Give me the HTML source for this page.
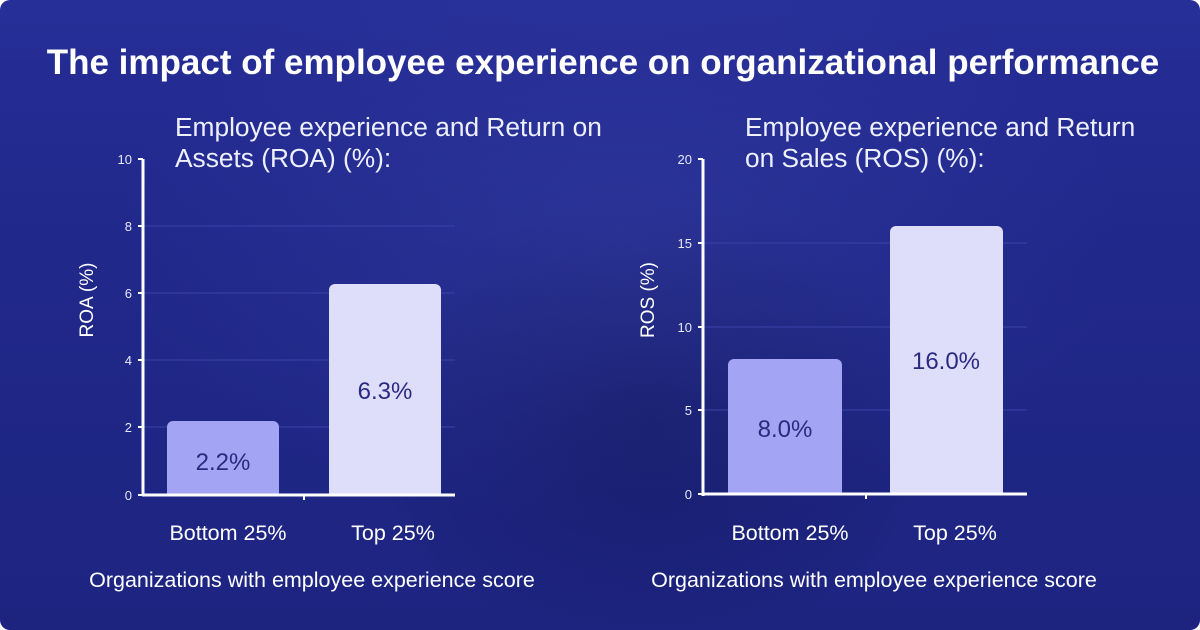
<!DOCTYPE html>
<html><head><style>
body{margin:0;width:1200px;height:630px;overflow:hidden;font-family:"Liberation Sans",sans-serif;}
.bg{position:absolute;left:0;top:0;width:1200px;height:630px;border-radius:10px;overflow:hidden;
background:radial-gradient(ellipse 500px 300px at 620px 230px,rgba(60,70,170,0.35),transparent),
radial-gradient(ellipse 300px 220px at 650px 420px,rgba(15,20,80,0.5),transparent),
linear-gradient(180deg,#262e98 0%,#20288a 40%,#1d2480 100%);}
</style></head><body>
<div class="bg"></div>
<svg width="1200" height="630" style="position:absolute;left:0;top:0" font-family="Liberation Sans, sans-serif">
<text x="603" y="74" fill="#fff" font-size="35" font-weight="bold" text-anchor="middle">The impact of employee experience on organizational performance</text>
<g fill="#eef0ff" font-size="26.3">
<text x="175" y="136">Employee experience and Return on</text>
<text x="175" y="167">Assets (ROA) (%):</text>
<text x="745" y="136">Employee experience and Return</text>
<text x="745" y="167">on Sales (ROS) (%):</text>
</g>
<g stroke="#3a42a8" stroke-width="1">
<line x1="143" x2="455" y1="226" y2="226"/><line x1="143" x2="455" y1="293" y2="293"/><line x1="143" x2="455" y1="360" y2="360"/><line x1="143" x2="455" y1="427" y2="427"/>
<line x1="703" x2="1027" y1="243" y2="243"/><line x1="703" x2="1027" y1="327" y2="327"/><line x1="703" x2="1027" y1="410" y2="410"/>
</g>
<path d="M167 495V427a6 6 0 0 1 6-6H273a6 6 0 0 1 6 6V495Z" fill="#a4a4f5"/>
<path d="M329 495V290a6 6 0 0 1 6-6H435a6 6 0 0 1 6 6V495Z" fill="#dedefa"/>
<path d="M728 495V365a6 6 0 0 1 6-6H836a6 6 0 0 1 6 6V495Z" fill="#a4a4f5"/>
<path d="M890 495V232a6 6 0 0 1 6-6H997a6 6 0 0 1 6 6V495Z" fill="#dedefa"/>
<g stroke="#fff" stroke-width="3">
<line x1="143" y1="159" x2="143" y2="496"/><line x1="142" y1="495" x2="455" y2="495"/>
<line x1="703" y1="159" x2="703" y2="496"/><line x1="702" y1="494" x2="1027" y2="494"/>
</g>
<g stroke="#fff" stroke-width="2">
<line x1="138" x2="143" y1="159" y2="159"/><line x1="138" x2="143" y1="226" y2="226"/><line x1="138" x2="143" y1="293" y2="293"/><line x1="138" x2="143" y1="360" y2="360"/><line x1="138" x2="143" y1="427" y2="427"/><line x1="138" x2="143" y1="495" y2="495"/>
<line x1="698" x2="703" y1="159" y2="159"/><line x1="698" x2="703" y1="243" y2="243"/><line x1="698" x2="703" y1="327" y2="327"/><line x1="698" x2="703" y1="410" y2="410"/><line x1="698" x2="703" y1="494" y2="494"/>
<line x1="304" x2="304" y1="495" y2="500"/><line x1="866" x2="866" y1="494" y2="499"/>
</g>
<g fill="#e6e8ff" font-size="13" text-anchor="end">
<text x="132" y="164">10</text><text x="132" y="231">8</text><text x="132" y="298">6</text><text x="132" y="365">4</text><text x="132" y="432">2</text><text x="132" y="500">0</text>
<text x="692" y="164">20</text><text x="692" y="248">15</text><text x="692" y="332">10</text><text x="692" y="415">5</text><text x="692" y="499">0</text>
</g>
<text transform="translate(93,300) rotate(-90)" fill="#fff" font-size="19" text-anchor="middle">ROA (%)</text>
<text transform="translate(654,300) rotate(-90)" fill="#fff" font-size="19" text-anchor="middle">ROS (%)</text>
<g fill="#2a2a80" font-size="24" text-anchor="middle">
<text x="223" y="470">2.2%</text><text x="385" y="399">6.3%</text>
<text x="785" y="437">8.0%</text><text x="946" y="369">16.0%</text>
</g>
<g fill="#fff" font-size="21.5" text-anchor="middle">
<text x="228" y="540">Bottom 25%</text><text x="393" y="540">Top 25%</text>
<text x="790" y="540">Bottom 25%</text><text x="955" y="540">Top 25%</text>
<text x="312" y="587">Organizations with employee experience score</text>
<text x="874" y="587">Organizations with employee experience score</text>
</g>
</svg>
</body></html>
